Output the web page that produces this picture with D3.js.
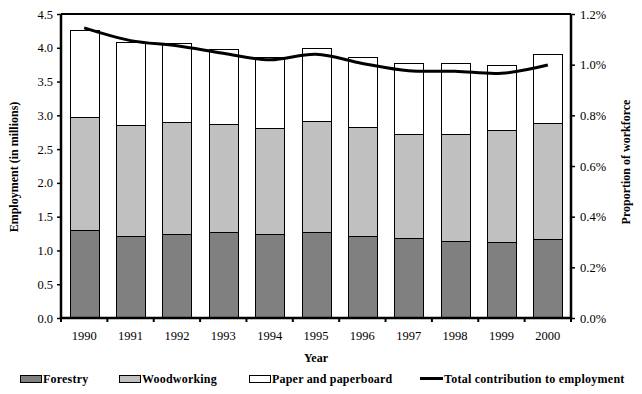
<!DOCTYPE html>
<html><head><meta charset="utf-8">
<script src="https://cdn.jsdelivr.net/npm/d3@7"></script>
<style>body{margin:0;background:#fff;} svg{display:block;font-family:"Liberation Serif","Times New Roman",serif;}</style>
</head><body>
<svg id="c" width="642" height="394"></svg>
<script>
const years = ["1990","1991","1992","1993","1994","1995","1996","1997","1998","1999","2000"];
const forestry = [1.30,1.22,1.25,1.27,1.24,1.28,1.22,1.18,1.135,1.12,1.165];
const woodworking = [1.67,1.63,1.65,1.60,1.57,1.63,1.61,1.55,1.595,1.66,1.715];
const paper = [1.29,1.24,1.17,1.11,1.06,1.08,1.03,1.04,1.04,0.97,1.03];
const proportion = [1.145,1.095,1.075,1.045,1.019,1.041,1.005,0.976,0.974,0.966,0.999];
const leftTicks = [0,0.5,1,1.5,2,2.5,3,3.5,4,4.5];
const rightTicks = [0,0.2,0.4,0.6,0.8,1.0,1.2];
const seriesNames = ["Forestry","Woodworking","Paper and paperboard"];
const lineName = "Total contribution to employment";
const colors = ["#808080","#c0c0c0","#ffffff"];

const svg = d3.select("#c");
const L = 61, R = 571, T = 14, B = 318;
const x = d3.scaleBand().domain(years).range([L, R]).paddingInner(0.375).paddingOuter(0.1875);
const band = d3.scaleBand().domain(years).range([L, R]);
const y = d3.scaleLinear().domain([0,4.5]).range([B,T]);
const y2 = d3.scaleLinear().domain([0,1.2]).range([B,T]);

const table = years.map((yr,i)=>({year:yr, Forestry:forestry[i], Woodworking:woodworking[i], "Paper and paperboard":paper[i]}));
const stack = d3.stack().keys(seriesNames)(table);

svg.append("g").selectAll("g").data(stack).join("g")
  .attr("fill",(d,i)=>colors[i])
  .selectAll("rect").data(d=>d).join("rect")
  .attr("x",d=>Math.round(x(d.data.year))+0.5)
  .attr("width",Math.round(x.bandwidth()))
  .attr("y",d=>Math.round(y(d[1]))+0.5)
  .attr("height",d=>Math.round(y(d[0]))-Math.round(y(d[1])))
  .attr("stroke","#000").attr("stroke-width",1);

// frame
svg.append("line").attr("x1",L).attr("x2",R).attr("y1",T).attr("y2",T).attr("stroke","#000").attr("stroke-width",2);

// left axis
const gl = svg.append("g").attr("transform",`translate(${L},0)`)
  .call(d3.axisLeft(y).tickValues(leftTicks).tickFormat(d3.format(".1f")).tickSize(4).tickPadding(4));
gl.attr("font-family",null);
gl.select(".domain").attr("stroke-width",2.5).attr("d",`M0,${T}V${B}`);
gl.selectAll("text").attr("font-size",12.5);
gl.selectAll(".tick line").attr("stroke-width",1.5);

// right axis
const gr = svg.append("g").attr("transform",`translate(${R},0)`)
  .call(d3.axisRight(y2).tickValues(rightTicks).tickFormat(d=>d.toFixed(1)+"%").tickSize(4).tickPadding(5));
gr.attr("font-family",null);
gr.select(".domain").attr("stroke-width",2.5).attr("d",`M0,${T}V${B}`);
gr.selectAll("text").attr("font-size",12.5);
gr.selectAll(".tick line").attr("stroke-width",1.5);

// bottom axis
const gb = svg.append("g").attr("transform",`translate(0,${B})`)
  .call(d3.axisBottom(x).tickSize(0).tickPadding(13));
gb.attr("font-family",null);
gb.select(".domain").attr("stroke-width",2.5).attr("d",`M${L},0H${R}`);
gb.selectAll("text").attr("font-size",12.5);
gb.selectAll(".tick line").remove();
svg.append("g").selectAll("line").data(years.concat(["end"])).join("line")
  .attr("x1",(d,i)=>i<years.length?band(d):R).attr("x2",(d,i)=>i<years.length?band(d):R)
  .attr("y1",B).attr("y2",B+4).attr("stroke","#000").attr("stroke-width",2);

// line
const line = d3.line().x((d,i)=>band(years[i])+band.bandwidth()/2).y(d=>y2(d)).curve(d3.curveCatmullRom.alpha(0.5));
svg.append("path").datum(proportion).attr("d",line).attr("fill","none").attr("stroke","#000").attr("stroke-width",3);

// titles
svg.append("text").attr("transform","translate(18,167) rotate(-90)").attr("text-anchor","middle")
  .attr("font-size",12).attr("font-weight","bold").text("Employment (in millions)");
svg.append("text").attr("transform","translate(630,162) rotate(-90)").attr("text-anchor","middle")
  .attr("font-size",12).attr("font-weight","bold").text("Proportion of workforce");
svg.append("text").attr("x",316).attr("y",362).attr("text-anchor","middle")
  .attr("font-size",12).attr("font-weight","bold").text("Year");

// legend
const legX = [20,119,249];
seriesNames.forEach((n,i)=>{
  svg.append("rect").attr("x",legX[i]+0.5).attr("y",375.5).attr("width",21).attr("height",7)
    .attr("fill",colors[i]).attr("stroke","#000");
  svg.append("text").attr("x",legX[i]+23).attr("y",383).attr("font-size",12).attr("font-weight","bold")
    .attr("letter-spacing",0.2).text(n);
});
svg.append("line").attr("x1",420).attr("x2",443).attr("y1",378.5).attr("y2",378.5).attr("stroke","#000").attr("stroke-width",3);
svg.append("text").attr("x",444).attr("y",383).attr("font-size",12).attr("font-weight","bold")
  .attr("letter-spacing",0.25).text(lineName);
</script>
</body></html>
